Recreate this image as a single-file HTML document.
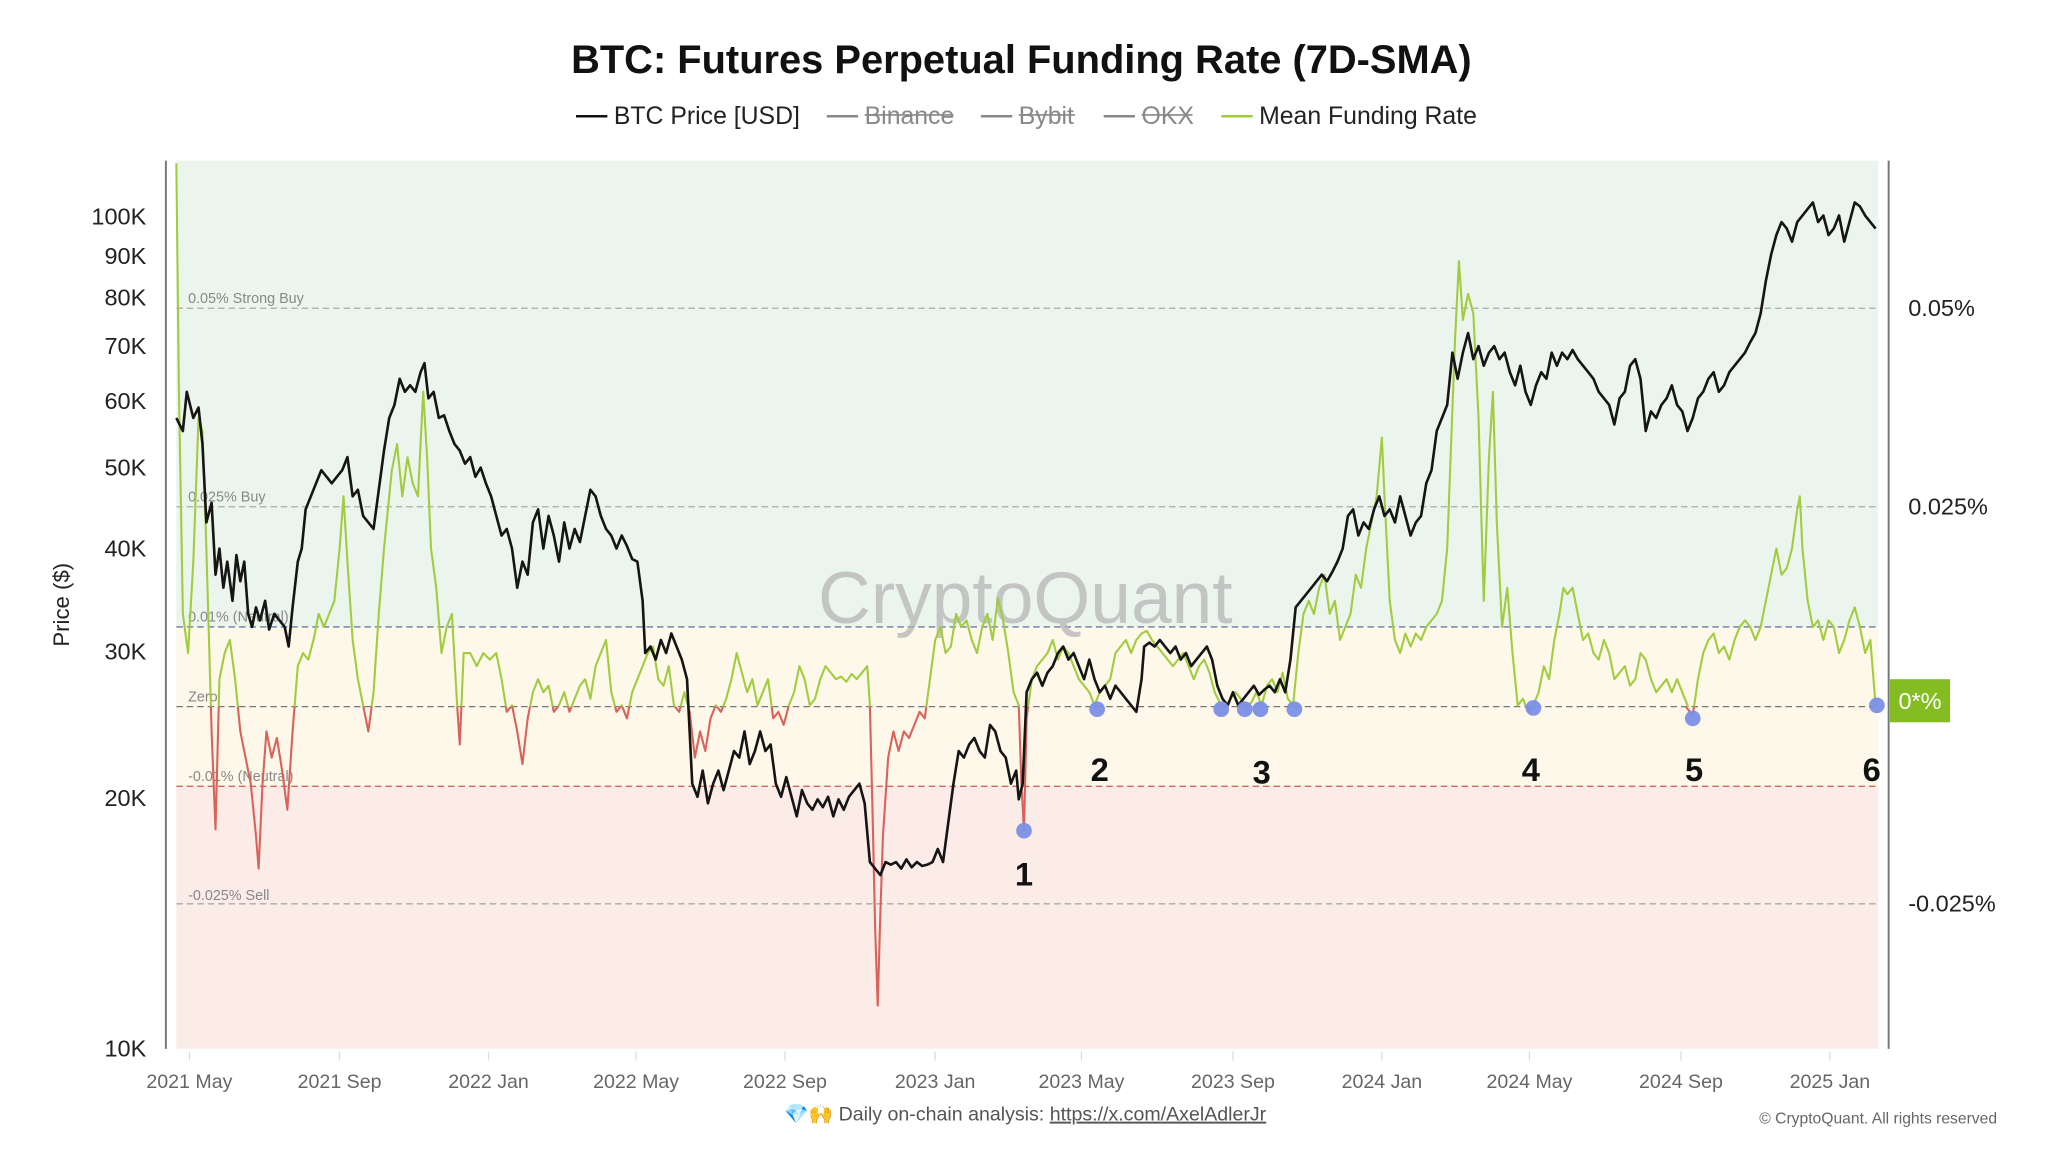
<!DOCTYPE html>
<html><head><meta charset="utf-8"><style>
html,body{margin:0;padding:0;background:#fff;}
svg{display:block;font-family:"Liberation Sans",sans-serif;}
</style></head><body>
<svg width="2048" height="1152" viewBox="0 0 1568 882" xmlns="http://www.w3.org/2000/svg">
<defs>
<clipPath id="above"><rect x="130" y="100" width="1320" height="441"/></clipPath>
<clipPath id="below"><rect x="130" y="541" width="1320" height="300"/></clipPath>
</defs>
<text x="782" y="56" text-anchor="middle" font-size="30.5" font-weight="bold" fill="#111">BTC: Futures Perpetual Funding Rate (7D-SMA)</text>
<g font-size="19">
<line x1="441" y1="89" x2="465" y2="89" stroke="#111" stroke-width="2"/><text x="470" y="95" fill="#222">BTC Price [USD]</text>
<line x1="633" y1="89" x2="657" y2="89" stroke="#888" stroke-width="2"/><text x="662" y="95" fill="#888">Binance</text><line x1="662" y1="88" x2="730" y2="88" stroke="#888" stroke-width="1.2"/>
<line x1="751" y1="89" x2="775" y2="89" stroke="#888" stroke-width="2"/><text x="780" y="95" fill="#888">Bybit</text><line x1="780" y1="88" x2="823" y2="88" stroke="#888" stroke-width="1.2"/>
<line x1="845" y1="89" x2="869" y2="89" stroke="#888" stroke-width="2"/><text x="874" y="95" fill="#888">OKX</text><line x1="874" y1="88" x2="913" y2="88" stroke="#888" stroke-width="1.2"/>
<line x1="935" y1="89" x2="959" y2="89" stroke="#9fcc3b" stroke-width="2"/><text x="964" y="95" fill="#222">Mean Funding Rate</text>
</g>
<rect x="135" y="123" width="1303" height="357" fill="#ebf5ee"/>
<rect x="135" y="480" width="1303" height="122" fill="#fdf8e9"/>
<rect x="135" y="602" width="1303" height="201" fill="#fcece8"/>
<line x1="127" y1="123" x2="127" y2="803" stroke="#777" stroke-width="1.5"/>
<line x1="1446" y1="123" x2="1446" y2="803" stroke="#777" stroke-width="1.5"/>
<g stroke-dasharray="5,3" stroke-width="1">
<line x1="135" y1="236" x2="1438" y2="236" stroke="#aaa"/>
<line x1="135" y1="388" x2="1438" y2="388" stroke="#aaa"/>
<line x1="135" y1="480" x2="1438" y2="480" stroke="#7378a0"/>
<line x1="135" y1="541" x2="1438" y2="541" stroke="#777"/>
<line x1="135" y1="602" x2="1438" y2="602" stroke="#d06a60"/>
<line x1="135" y1="692" x2="1438" y2="692" stroke="#aaa"/>
</g>
<g font-size="11" fill="#888">
<text x="144" y="232">0.05% Strong Buy</text><text x="144" y="384">0.025% Buy</text><text x="144" y="476">0.01% (Neutral)</text>
<text x="144" y="537">Zero</text><text x="144" y="598">-0.01% (Neutral)</text><text x="144" y="689">-0.025% Sell</text>
</g>
<text x="785" y="477" text-anchor="middle" font-size="56" fill="#b5b5b5" opacity="0.75">CryptoQuant</text>
<g font-size="18" fill="#222" text-anchor="end">
<text x="112" y="172">100K</text><text x="112" y="202">90K</text><text x="112" y="234">80K</text><text x="112" y="271">70K</text>
<text x="112" y="313">60K</text><text x="112" y="364">50K</text><text x="112" y="426">40K</text><text x="112" y="505">30K</text>
<text x="112" y="617">20K</text><text x="112" y="809">10K</text>
</g>
<g font-size="18" fill="#222">
<text x="1461" y="242">0.05%</text><text x="1461" y="394">0.025%</text><text x="1461" y="698">-0.025%</text>
</g>
<text transform="translate(53,463) rotate(-90)" text-anchor="middle" font-size="17" fill="#222">Price ($)</text>
<g font-size="15" fill="#666" text-anchor="middle">
<text x="145" y="833">2021 May</text><text x="260" y="833">2021 Sep</text><text x="374" y="833">2022 Jan</text><text x="487" y="833">2022 May</text>
<text x="601" y="833">2022 Sep</text><text x="716" y="833">2023 Jan</text><text x="828" y="833">2023 May</text><text x="944" y="833">2023 Sep</text>
<text x="1058" y="833">2024 Jan</text><text x="1171" y="833">2024 May</text><text x="1287" y="833">2024 Sep</text><text x="1401" y="833">2025 Jan</text>
</g>
<g stroke="#ddd" stroke-width="1">
<line x1="145" y1="805" x2="145" y2="812"/><line x1="260" y1="805" x2="260" y2="812"/><line x1="374" y1="805" x2="374" y2="812"/><line x1="487" y1="805" x2="487" y2="812"/><line x1="601" y1="805" x2="601" y2="812"/><line x1="716" y1="805" x2="716" y2="812"/><line x1="828" y1="805" x2="828" y2="812"/><line x1="944" y1="805" x2="944" y2="812"/><line x1="1058" y1="805" x2="1058" y2="812"/><line x1="1171" y1="805" x2="1171" y2="812"/><line x1="1287" y1="805" x2="1287" y2="812"/><line x1="1401" y1="805" x2="1401" y2="812"/>
</g>
<g fill="none" stroke-width="1.6" stroke-linejoin="round">
<polyline clip-path="url(#above)" stroke="#a2cc40" points="135,125 137,300 140,470 144,500 148,430 152,320 155,330 158,420 162,560 165,635 168,520 172,500 176,490 180,520 184,560 188,580 192,600 196,640 198,665 201,600 204,560 208,580 212,565 216,590 220,620 224,560 228,510 232,500 236,505 240,490 244,470 248,480 252,470 256,460 260,420 263,380 266,430 270,490 274,520 278,540 282,560 286,530 290,470 294,420 297,390 300,360 304,340 308,380 312,350 316,370 320,380 324,300 327,350 330,420 334,450 338,500 342,480 346,470 350,540 352,570 355,500 360,500 365,510 370,500 375,505 380,500 384,520 388,545 392,540 396,560 400,585 404,550 408,530 412,520 416,530 420,525 424,545 428,540 432,530 436,545 440,535 444,525 448,520 452,535 456,510 460,500 464,490 468,530 472,545 476,540 480,550 484,530 488,520 492,510 496,500 500,495 504,520 508,525 512,510 516,540 520,545 524,530 528,545 532,580 536,560 540,575 544,550 548,540 552,545 556,535 560,520 564,500 568,515 572,530 576,520 580,540 584,530 588,520 592,550 596,545 600,555 604,540 608,530 612,510 616,520 620,540 624,535 628,520 632,510 636,515 640,520 644,518 648,522 652,516 656,520 660,515 664,510 666,540 668,620 670,710 672,770 674,700 676,640 680,580 684,560 688,575 692,560 696,565 700,555 704,545 708,550 712,520 716,490 720,480 724,500 728,495 732,470 736,480 740,475 744,490 748,500 752,480 756,470 760,490 764,458 768,475 772,500 776,530 780,540 782,600 784,636 786,550 790,520 794,510 798,505 802,500 806,490 810,505 814,495 818,500 822,510 826,520 830,525 834,530 838,540 842,530 846,525 850,520 854,500 858,495 862,490 866,500 870,490 874,485 878,483 882,490 886,495 890,500 894,505 898,510 902,505 906,500 910,510 914,520 918,510 922,505 926,515 930,530 934,538 938,542 942,535 946,530 950,535 954,540 958,538 962,530 966,540 970,525 974,520 978,530 982,515 986,535 990,540 994,500 998,470 1002,460 1006,470 1010,450 1014,440 1018,470 1022,460 1026,490 1030,480 1034,470 1038,440 1042,450 1046,420 1050,400 1054,380 1058,335 1060,380 1064,460 1068,490 1072,500 1076,485 1080,495 1084,485 1088,490 1092,480 1096,475 1100,470 1104,460 1108,420 1111,340 1114,260 1117,200 1120,245 1124,225 1128,240 1132,320 1136,460 1140,350 1143,300 1146,400 1150,480 1154,450 1158,500 1162,540 1166,535 1170,545 1174,540 1178,530 1182,510 1186,520 1190,490 1194,470 1197,450 1200,455 1204,450 1208,470 1212,490 1216,485 1220,500 1224,505 1228,490 1232,500 1236,520 1240,515 1244,510 1248,525 1252,520 1256,500 1260,505 1264,520 1268,530 1272,525 1276,520 1280,530 1284,520 1288,530 1292,540 1296,548 1300,520 1304,500 1308,490 1312,485 1316,500 1320,495 1324,505 1328,490 1332,480 1336,475 1340,480 1344,490 1348,480 1352,460 1356,440 1360,420 1364,440 1368,435 1372,420 1376,390 1378,380 1380,420 1384,460 1388,480 1392,475 1396,490 1400,475 1404,480 1408,500 1412,490 1416,475 1420,465 1424,480 1428,500 1432,490 1436,540"/>
<polyline stroke="#d9625a" clip-path="url(#below)" points="135,125 137,300 140,470 144,500 148,430 152,320 155,330 158,420 162,560 165,635 168,520 172,500 176,490 180,520 184,560 188,580 192,600 196,640 198,665 201,600 204,560 208,580 212,565 216,590 220,620 224,560 228,510 232,500 236,505 240,490 244,470 248,480 252,470 256,460 260,420 263,380 266,430 270,490 274,520 278,540 282,560 286,530 290,470 294,420 297,390 300,360 304,340 308,380 312,350 316,370 320,380 324,300 327,350 330,420 334,450 338,500 342,480 346,470 350,540 352,570 355,500 360,500 365,510 370,500 375,505 380,500 384,520 388,545 392,540 396,560 400,585 404,550 408,530 412,520 416,530 420,525 424,545 428,540 432,530 436,545 440,535 444,525 448,520 452,535 456,510 460,500 464,490 468,530 472,545 476,540 480,550 484,530 488,520 492,510 496,500 500,495 504,520 508,525 512,510 516,540 520,545 524,530 528,545 532,580 536,560 540,575 544,550 548,540 552,545 556,535 560,520 564,500 568,515 572,530 576,520 580,540 584,530 588,520 592,550 596,545 600,555 604,540 608,530 612,510 616,520 620,540 624,535 628,520 632,510 636,515 640,520 644,518 648,522 652,516 656,520 660,515 664,510 666,540 668,620 670,710 672,770 674,700 676,640 680,580 684,560 688,575 692,560 696,565 700,555 704,545 708,550 712,520 716,490 720,480 760,490 776,530 780,540 782,600 784,636 786,550 790,520 930,530 934,538 938,542 942,535 1160,540 1166,535 1170,545 1174,540 1178,530 1290,540 1296,548 1300,520 1430,490 1436,540"/>
</g>
<polyline fill="none" stroke="#151515" stroke-width="2" stroke-linejoin="round" points="135,320 140,330 143,300 148,320 152,312 155,340 158,400 162,385 165,440 168,420 171,450 174,430 178,460 181,425 184,445 187,430 190,470 193,480 196,465 199,475 203,460 206,482 210,470 214,475 218,480 221,495 224,465 228,430 231,420 234,390 238,380 242,370 246,360 250,365 254,370 258,365 262,360 266,350 270,380 274,375 278,395 282,400 286,405 290,375 294,345 298,320 302,310 306,290 310,300 314,295 318,300 322,285 325,278 328,305 332,300 336,320 340,318 344,330 348,340 352,345 356,355 360,350 364,365 368,358 372,370 376,380 380,395 384,410 388,405 392,420 396,450 400,430 404,440 408,400 412,390 416,420 420,395 424,410 428,430 432,400 436,420 440,405 444,415 448,395 452,375 456,380 460,395 464,405 468,410 472,420 476,410 480,418 484,428 488,430 492,460 494,500 498,495 502,505 506,490 510,500 514,485 518,495 522,505 526,520 530,600 534,610 538,590 542,615 546,600 550,590 554,605 558,590 562,575 566,580 570,560 574,585 578,575 582,560 586,575 590,570 594,600 598,610 602,595 606,610 610,625 614,605 618,615 622,620 626,612 630,618 634,610 638,625 642,612 646,620 650,610 654,605 658,600 662,615 666,660 670,665 674,670 678,660 682,662 686,660 690,665 694,658 698,664 702,660 706,663 710,662 714,660 718,650 722,660 726,630 730,600 734,575 738,580 742,570 746,565 750,575 754,580 758,555 762,560 766,575 770,580 774,600 778,590 780,612 783,600 786,530 790,520 794,515 798,525 802,515 806,510 810,500 814,495 818,505 822,500 826,510 830,520 834,505 838,520 842,530 846,525 850,535 854,525 858,530 862,535 866,540 870,545 874,520 876,495 880,492 884,495 888,490 892,495 896,500 900,495 904,505 908,500 912,510 916,505 920,500 924,495 928,505 932,525 936,535 940,540 944,530 948,540 952,535 956,530 960,525 964,532 968,528 972,525 976,530 980,520 984,530 988,505 992,465 996,460 1000,455 1004,450 1008,445 1012,440 1016,445 1020,438 1024,430 1028,420 1032,395 1036,390 1040,410 1044,400 1048,405 1052,390 1056,380 1060,395 1064,390 1068,400 1072,380 1076,395 1080,410 1084,400 1088,395 1092,370 1096,360 1100,330 1104,320 1108,310 1112,270 1116,290 1120,270 1124,255 1128,275 1132,265 1136,280 1140,270 1144,265 1148,275 1152,270 1156,285 1160,295 1164,280 1168,300 1172,310 1176,295 1180,285 1184,290 1188,270 1192,280 1196,270 1200,275 1204,268 1208,275 1212,280 1216,285 1220,290 1224,300 1228,305 1232,310 1236,325 1240,305 1244,300 1248,280 1252,275 1256,290 1260,330 1264,315 1268,320 1272,310 1276,305 1280,295 1284,310 1288,315 1292,330 1296,320 1300,305 1304,300 1308,290 1312,285 1316,300 1320,295 1324,285 1328,280 1332,275 1336,270 1340,262 1344,255 1348,240 1352,215 1356,195 1360,180 1364,170 1368,175 1372,185 1376,170 1380,165 1384,160 1388,155 1392,170 1396,165 1400,180 1404,175 1408,165 1412,185 1416,170 1420,155 1424,158 1428,165 1432,170 1436,175"/>
<g fill="#7b8fe6" opacity="0.95">
<circle cx="784" cy="636" r="6"/><circle cx="840" cy="543" r="6"/><circle cx="935" cy="543" r="6"/><circle cx="953" cy="543" r="6"/><circle cx="965" cy="543" r="6"/><circle cx="991" cy="543" r="6"/><circle cx="1174" cy="542" r="6"/><circle cx="1296" cy="550" r="6"/><circle cx="1437" cy="540" r="6"/>
</g>
<g font-size="25" font-weight="bold" fill="#111" text-anchor="middle">
<text x="784" y="678">1</text><text x="842" y="598">2</text><text x="966" y="600">3</text><text x="1172" y="598">4</text><text x="1297" y="598">5</text><text x="1433" y="598">6</text>
</g>
<rect x="1447" y="520" width="46" height="33" fill="#84bd22"/>
<text x="1470" y="543" text-anchor="middle" font-size="18" fill="#fff">0*%</text>
<text x="785" y="858" text-anchor="middle" font-size="15" fill="#555">💎🙌 Daily on-chain analysis: <tspan text-decoration="underline">https://x.com/AxelAdlerJr</tspan></text>
<text x="1529" y="860" text-anchor="end" font-size="12" fill="#666">© CryptoQuant. All rights reserved</text>
</svg>
</body></html>
